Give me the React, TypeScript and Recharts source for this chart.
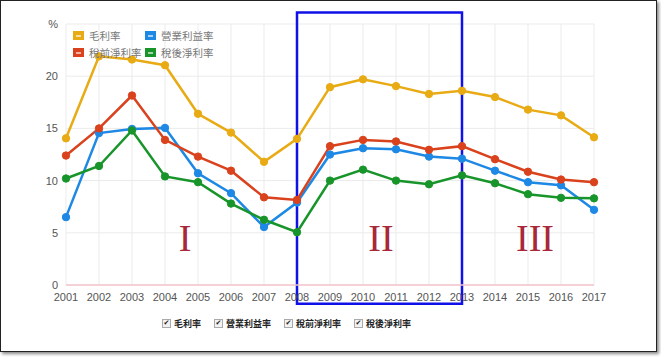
import { CartesianGrid, Line, LineChart, ReferenceArea, ReferenceLine, XAxis, YAxis } from "recharts";

const YEARS = ["2001", "2002", "2003", "2004", "2005", "2006", "2007", "2008", "2009", "2010", "2011", "2012", "2013", "2014", "2015", "2016", "2017"];
const GROSS = [14.05, 21.9, 21.6, 21.05, 16.4, 14.6, 11.8, 14.0, 18.95, 19.7, 19.05, 18.3, 18.6, 18.0, 16.8, 16.25, 14.15];
const OPERATING = [6.5, 14.55, 14.95, 15.05, 10.7, 8.8, 5.55, 7.9, 12.5, 13.1, 13.0, 12.3, 12.1, 10.95, 9.85, 9.55, 7.2];
const PRETAX = [12.4, 15.0, 18.15, 13.9, 12.3, 10.95, 8.4, 8.15, 13.3, 13.9, 13.75, 12.95, 13.3, 12.05, 10.85, 10.1, 9.85];
const AFTERTAX = [10.2, 11.4, 14.8, 10.4, 9.85, 7.8, 6.25, 5.05, 10.0, 11.05, 10.0, 9.65, 10.5, 9.75, 8.7, 8.35, 8.3];
const Y_TICKS = [0, 5, 10, 15, 20, 25];

const SERIES = [
  { key: "gross", name: "毛利率", values: GROSS, color: "#E8AB14" },
  { key: "operating", name: "營業利益率", values: OPERATING, color: "#1E88E5" },
  { key: "pretax", name: "稅前淨利率", values: PRETAX, color: "#D9421C" },
  { key: "aftertax", name: "稅後淨利率", values: AFTERTAX, color: "#18952A" },
];

const data = YEARS.map((year, i) => {
  const row: Record<string, string | number> = { year };
  SERIES.forEach((s) => (row[s.key] = s.values[i]));
  return row;
});

const GRID = "#EBEBEB";
const TICK = { fill: "#555", fontSize: 11, fontFamily: "'Liberation Sans Narrow', 'Liberation Sans', Arial, sans-serif" };
const CJK = "'Noto Sans CJK TC', 'Noto Sans CJK SC', sans-serif";

function SwatchKey({ color, label }: { color: string; label: string }) {
  return (
    <div style={{ display: "flex", alignItems: "center", height: 17 }}>
      <span style={{ width: 11, height: 9, background: color, display: "inline-flex", alignItems: "center", justifyContent: "center", marginRight: 5 }}>
        <span style={{ width: 5, height: 2, background: "rgba(255,255,255,0.6)" }} />
      </span>
      <span style={{ fontSize: 10.5, color: "#777", fontFamily: CJK }}>{label}</span>
    </div>
  );
}

function Check({ label }: { label: string }) {
  return (
    <span style={{ display: "inline-flex", alignItems: "center", marginRight: 13 }}>
      <span style={{ width: 7, height: 7, border: "1px solid #aaa", background: "#f2f2f2", fontSize: 7, lineHeight: "7px", textAlign: "center", color: "#222", marginRight: 3, fontFamily: "DejaVu Sans" }}>✔</span>
      <span style={{ fontSize: 9, fontWeight: 700, color: "#222", fontFamily: CJK }}>{label}</span>
    </span>
  );
}

const roman = { position: "absolute" as const, top: 218, fontFamily: "'Liberation Serif', serif", fontSize: 38, color: "#A8283A", lineHeight: "40px", transform: "translateX(-50%)" };

export default function App() {
  return (
    <div style={{ position: "absolute", left: 0, top: 0, width: 661, height: 357, background: "#fff", overflow: "hidden" }}>
      <div style={{ position: "absolute", left: 0, top: 0, width: 655, height: 350, border: "1.5px solid #222", boxShadow: "2px 2px 3px #888" }} />
      <LineChart width={661} height={357} data={data} margin={{ top: 24, right: 67, bottom: 52, left: 36 }} style={{ position: "absolute", left: 0, top: 0 }}>
        <CartesianGrid stroke={GRID} />
        <XAxis dataKey="year" interval={0} tick={TICK} axisLine={false} tickLine={false} height={20} />
        <YAxis
          domain={[0, 25]}
          ticks={Y_TICKS}
          tick={TICK}
          axisLine={false}
          tickLine={false}
          width={30}
          tickFormatter={(v: number) => (v === 25 ? "%" : String(v))}
        />
        <ReferenceLine y={0} stroke="#F2C4CB" strokeWidth={1.5} />
        {SERIES.map((s) => (
          <Line
            key={s.key}
            dataKey={s.key}
            name={s.name}
            stroke={s.color}
            strokeWidth={2.5}
            dot={{ r: 3.7, fill: s.color, stroke: s.color, strokeWidth: 1 }}
            isAnimationActive={false}
          />
        ))}
        <ReferenceArea x1="2008" x2="2013" y1={-1.8} y2={26.1} ifOverflow="visible" fill="none" stroke="#1010E8" strokeWidth={2.5} />
      </LineChart>
      <div style={{ position: "absolute", left: 73, top: 27, display: "grid", gridTemplateColumns: "72px auto", rowGap: 0 }}>
        {SERIES.map((s) => (
          <SwatchKey key={s.key} color={s.color} label={s.name} />
        ))}
      </div>
      <div style={{ ...roman, left: 185 }}>I</div>
      <div style={{ ...roman, left: 381 }}>II</div>
      <div style={{ ...roman, left: 535 }}>III</div>
      <div style={{ position: "absolute", left: 162, top: 317, display: "flex", alignItems: "center" }}>
        {SERIES.map((s) => (
          <Check key={s.key} label={s.name} />
        ))}
      </div>
    </div>
  );
}
